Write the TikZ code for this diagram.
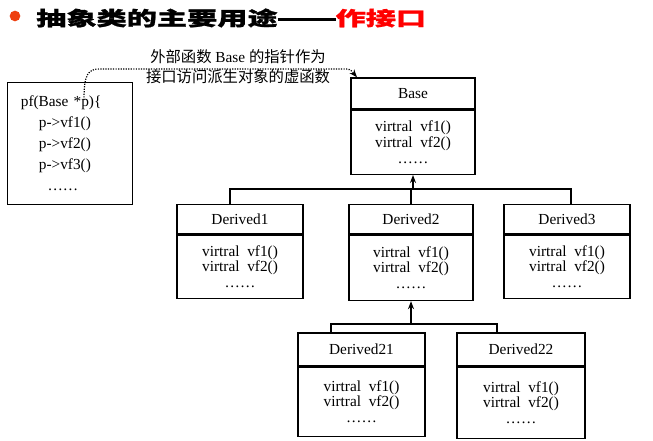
\documentclass[tikz,border=0pt]{standalone}
\usepackage{fontspec}
\setmainfont{Liberation Serif}
\newfontfamily\cjk{Noto Sans CJK SC}
\newfontfamily\cjktitle[FakeStretch=1.55, FakeBold=1.2]{Noto Sans CJK SC}
\usetikzlibrary{arrows.meta}
\definecolor{bulletred}{RGB}{238,64,16}
\newcommand{\bodyfont}{\fontsize{11.5}{10}\selectfont}
\begin{document}
\begin{tikzpicture}[x=0.75pt, y=-0.75pt,
        box/.style={draw, line width=1pt, inner sep=0pt, font=\bodyfont},
        titlebox/.style={box, minimum height=22pt},
        bodybox/.style={box, anchor=north, align=center},
        link/.style={line width=0.9pt},
        tip/.style={-{Stealth[length=6pt, width=4.5pt]}}]
        \useasboundingbox (0,0) rectangle (653,441);

        % heading
        \node[circle, fill=bulletred, minimum size=8pt, inner sep=0pt] (bullet) at (15,16) {};
        \node[anchor=west, inner sep=0pt, font=\cjktitle\bfseries\fontsize{14.6}{18}\selectfont] (title) at (36,18)
                {抽象类的主要用途\rule[3.4pt]{43.5pt}{2.3pt}\textcolor{red}{作接口}};

        % the caller
        \node[box, anchor=north west, minimum width=93.75pt, minimum height=91.5pt, text width=74pt,
                inner xsep=9.75pt, align=left, font=\fontsize{11.5}{15.75}\selectfont] (pf) at (7,82)
                {pf(Base *p)\{\\
                \hspace*{13.5pt}p->vf1()\\
                \hspace*{13.5pt}p->vf2()\\
                \hspace*{13.5pt}p->vf3()\\
                \hspace*{20pt}\ldots\ldots};
        \coordinate (ptr) at (84,100); % the p of *p

        % class boxes
        \node[titlebox, minimum width=93pt, minimum height=23.25pt] (base) at (413,93.5) {Base};
        \node[bodybox, minimum width=93pt, minimum height=48pt] (basebody) at (base.south)
                {virtral\ \ vf1()\\virtral\ \ vf2()\\[2pt]\ldots\ldots};

        \node[titlebox, minimum width=94.5pt] (der1) at (240,219.5) {Derived1};
        \node[bodybox, minimum width=94.5pt, minimum height=47.25pt] (der1body) at (der1.south)
                {virtral\ \ vf1()\\virtral\ \ vf2()\\[2pt]\ldots\ldots};
        \node[titlebox, minimum width=93pt] (der2) at (411,219.5) {Derived2};
        \node[bodybox, minimum width=93pt, minimum height=48.75pt] (der2body) at (der2.south)
                {virtral\ \ vf1()\\virtral\ \ vf2()\\[2pt]\ldots\ldots};
        \node[titlebox, minimum width=94.5pt] (der3) at (567,219.5) {Derived3};
        \node[bodybox, minimum width=94.5pt, minimum height=47.25pt] (der3body) at (der3.south)
                {virtral\ \ vf1()\\virtral\ \ vf2()\\[2pt]\ldots\ldots};

        \node[titlebox, minimum width=95.25pt, minimum height=24.75pt] (der21) at (361.5,349.5) {Derived21};
        \node[bodybox, minimum width=95.25pt, minimum height=51.75pt] (der21body) at (der21.south)
                {virtral\ \ vf1()\\virtral\ \ vf2()\\[2pt]\ldots\ldots};
        \node[titlebox, minimum width=96pt, minimum height=24.75pt] (der22) at (521,349.5) {Derived22};
        \node[bodybox, minimum width=96pt, minimum height=53.25pt] (der22body) at (der22.south)
                {virtral\ \ vf1()\\virtral\ \ vf2()\\[2pt]\ldots\ldots};

        % inheritance
        \coordinate (upper) at (413,189);
        \coordinate (lower) at (411,324);
        \draw[link] ([xshift=-7.5pt]der1.north) |- (upper) -| ([xshift=3pt]der3.north);
        \draw[link] (der2.north) -- (der2.north |- upper);
        \draw[link, tip] (upper) -- (basebody.south);
        \draw[link] ([xshift=-22.9pt]der21.north) |- (lower) -| ([xshift=-18pt]der22.north);
        \draw[link, tip] (lower) -- (der2body.south);

        % pointer used as interface
        \node[align=center, inner sep=0pt, font=\fontsize{11.5}{15}\selectfont] (note) at (238,67)
                {{\cjk 外部函数} Base {\cjk 的指针作为}\\{\cjk 接口访问派生对象的虚函数}};
        \draw[line width=0.9pt, dash pattern=on 0.9pt off 1pt, tip] (ptr) .. controls (84,74) and (88,69) .. (100,69)
                -- (342,69) .. controls (350,69) .. ([xshift=5pt]base.north west);
        %\draw[dotted] (pf.north) -- (base.west);
\end{tikzpicture}
\end{document}
